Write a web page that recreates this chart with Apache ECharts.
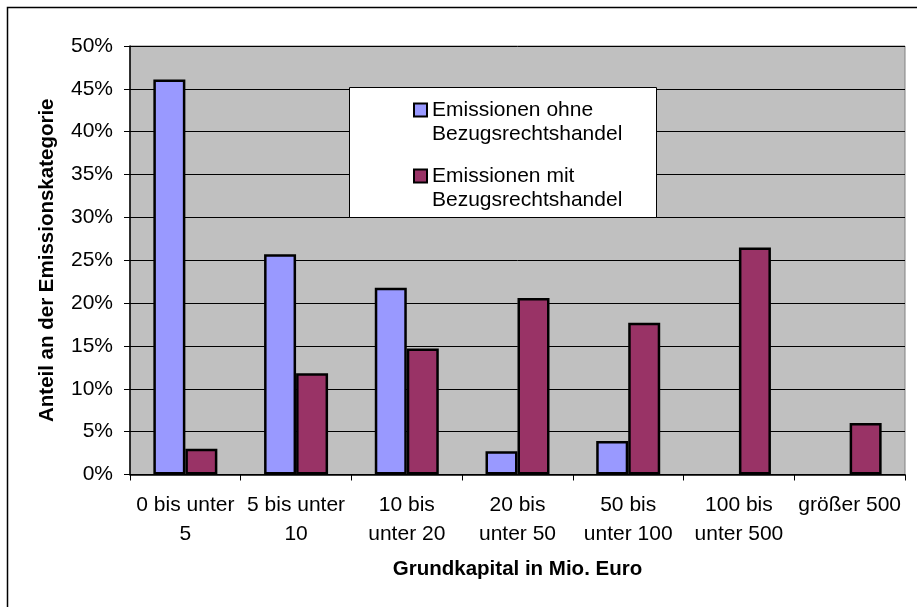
<!DOCTYPE html>
<html>
<head>
<meta charset="utf-8">
<script src="https://cdn.jsdelivr.net/npm/echarts@6/dist/echarts.min.js"></script>
<style>
  html, body { margin: 0; padding: 0; background: #fff; }
  #chart { width: 917px; height: 607px; }
</style>
</head>
<body>
<div id="chart"></div>
<script>
// Size classes of share capital (million euro)
const categories = [
  "0 bis unter\n5", "5 bis unter\n10", "10 bis\nunter 20", "20 bis\nunter 50",
  "50 bis\nunter 100", "100 bis\nunter 500", "größer 500"
];
// Share of each issue category, in percent (null = no issues in that class)
const ohneHandel = [46.1, 25.7, 21.8, 2.7, 3.9, null, null];
const mitHandel = [3.0, 11.8, 14.7, 20.6, 17.7, 26.5, 6.0];
const seriesNames = ["Emissionen ohne Bezugsrechtshandel", "Emissionen mit Bezugsrechtshandel"];
const yTicks = { min: 0, max: 50, step: 5 };

const FONT = "'Liberation Sans', Arial, sans-serif";
const chart = echarts.init(document.getElementById('chart'), null, { renderer: 'canvas' });

chart.setOption({
  animation: false,
  backgroundColor: '#ffffff',
  textStyle: { fontFamily: FONT, color: '#000' },
  graphic: [
    // outer chart frame
    { type: 'rect', z: 1, silent: true,
      shape: { x: 7.5, y: 7.5, width: 940, height: 640 },
      style: { fill: 'none', stroke: '#000', lineWidth: 1.5 } },
    // legend box
    { type: 'rect', z: 3, silent: true,
      shape: { x: 349.5, y: 87.5, width: 307, height: 130 },
      style: { fill: '#ffffff', stroke: '#000', lineWidth: 1 } }
  ],
  legend: {
    orient: 'vertical',
    left: 413,
    top: 74,
    padding: 0,
    itemGap: -6,
    itemWidth: 13,
    itemHeight: 13,
    z: 5,
    selectedMode: false,
    icon: 'rect',
    itemStyle: { borderColor: '#000', borderWidth: 2 },
    textStyle: { fontFamily: FONT, fontSize: 21, color: '#000', lineHeight: 24 },
    formatter: function (name) {
      return '\n' + name.replace(' Bezugsrechtshandel', '\nBezugsrechtshandel');
    }
  },
  grid: {
    left: 130, right: 12, top: 46, bottom: 132.5,
    show: true,
    backgroundColor: '#C0C0C0',
    borderColor: '#808080',
    borderWidth: 1
  },
  xAxis: {
    type: 'category',
    data: categories,
    name: 'Grundkapital in Mio. Euro',
    nameLocation: 'middle',
    nameGap: 84,
    nameTextStyle: { fontFamily: FONT, fontSize: 20.5, fontWeight: 'bold', color: '#000' },
    axisLine: { lineStyle: { color: '#000', width: 1.5 } },
    axisTick: { show: true, length: 6, lineStyle: { color: '#000' } },
    axisLabel: {
      interval: 0, margin: 16, fontFamily: FONT, fontSize: 21, color: '#000',
      lineHeight: 29, align: 'center'
    }
  },
  yAxis: {
    type: 'value',
    min: yTicks.min, max: yTicks.max, interval: yTicks.step,
    name: 'Anteil an der Emissionskategorie',
    nameLocation: 'middle',
    nameRotate: 90,
    nameGap: 72,
    nameTextStyle: { fontFamily: FONT, fontSize: 20.5, fontWeight: 'bold', color: '#000' },
    axisLine: { show: true, lineStyle: { color: '#000', width: 1.5 } },
    axisTick: { show: true, length: 6, lineStyle: { color: '#000' } },
    splitLine: { show: true, lineStyle: { color: '#000', width: 1 } },
    axisLabel: { margin: 17, fontFamily: FONT, fontSize: 21, color: '#000', formatter: '{value}%' }
  },
  series: [
    {
      name: seriesNames[0], type: 'bar', data: ohneHandel,
      barWidth: 32, barGap: '0%',
      itemStyle: { color: '#9999FF', borderColor: '#000', borderWidth: 2.5 }
    },
    {
      name: seriesNames[1], type: 'bar', data: mitHandel,
      barWidth: 32, barGap: '0%',
      itemStyle: { color: '#993366', borderColor: '#000', borderWidth: 2.5 }
    }
  ]
});
</script>
</body>
</html>
